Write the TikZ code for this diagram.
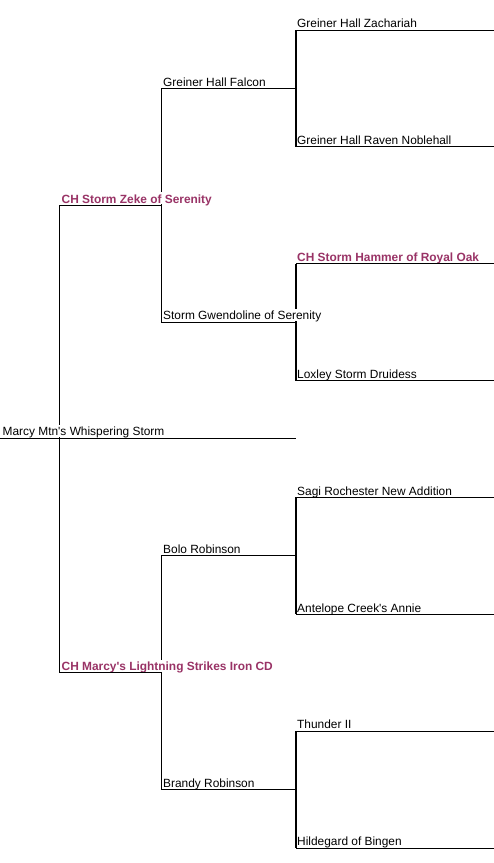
\documentclass[tikz,border=0pt]{standalone}
\usepackage{fontspec}
\newfontfamily\dogfont{Liberation Sans}
\definecolor{champ}{RGB}{153,51,102}
\begin{document}
\begin{tikzpicture}[x=1pt,y=-1pt,
  dogname/.style={anchor=base west,inner sep=0pt,fill=white,text height=10.8pt,text depth=1.3pt,
    font=\dogfont\fontsize{11.9}{13}\selectfont},
  champion/.style={dogname,text=champ,font=\dogfont\fontsize{11.9}{13}\selectfont\bfseries},
  link/.style={line width=1pt,line cap=rect},
  link3/.style={line width=2pt}]
\fill[white] (0,0) rectangle (494,863);
\useasboundingbox (0,0) rectangle (494,863);
% columns
\def\cA{0}\def\cB{59.5}\def\cC{161.5}\def\cD{296}\def\cE{494}
% left/right ends of each dog's line
\coordinate (s0L) at (\cA,438); \coordinate (s0R) at (295,438);
\coordinate (sL) at (\cB,205.3); \coordinate (sR) at (\cC,205.3);
\coordinate (dL) at (\cB,672.7); \coordinate (dR) at (\cC,672.7);
\coordinate (ssL) at (\cC,88.5); \coordinate (ssR) at (\cD,88.5);
\coordinate (sdL) at (\cC,322.1); \coordinate (sdR) at (\cD,322.1);
\coordinate (dsL) at (\cC,555.9); \coordinate (dsR) at (\cD,555.9);
\coordinate (ddL) at (\cC,789.6); \coordinate (ddR) at (\cD,789.6);
\coordinate (sssL) at (\cD,30); \coordinate (sssR) at (\cE,30);
\coordinate (ssdL) at (\cD,146.9); \coordinate (ssdR) at (\cE,146.9);
\coordinate (sdsL) at (\cD,263.7); \coordinate (sdsR) at (\cE,263.7);
\coordinate (sddL) at (\cD,380.6); \coordinate (sddR) at (\cE,380.6);
\coordinate (dssL) at (\cD,497.4); \coordinate (dssR) at (\cE,497.4);
\coordinate (dsdL) at (\cD,614.3); \coordinate (dsdR) at (\cE,614.3);
\coordinate (ddsL) at (\cD,731.1); \coordinate (ddsR) at (\cE,731.1);
\coordinate (dddL) at (\cD,848); \coordinate (dddR) at (\cE,848);
% vertical brackets
\draw[link] (sL) -- (dL);
\draw[link] (ssL) -- (sdL);
\draw[link] (dsL) -- (ddL);
\draw[link3] (sssL) -- (ssdL);
\draw[link3] (sdsL) -- (sddL);
\draw[link3] (dssL) -- (dsdL);
\draw[link3] (ddsL) -- (dddL);
% names
\node[dogname]  (s0)  at ([xshift=2.5pt,yshift=2.2pt]s0L) {Marcy Mtn's Whispering Storm};
\node[champion] (s)   at ([xshift=2pt,yshift=2.2pt]sL) {CH Storm Zeke of Serenity};
\node[champion] (d)   at ([xshift=2pt,yshift=2.2pt]dL) {CH Marcy's Lightning Strikes Iron CD};
\node[dogname]  (ss)  at ([xshift=1.5pt,yshift=2.2pt]ssL) {Greiner Hall Falcon};
\node[dogname]  (sd)  at ([xshift=1.5pt,yshift=2.2pt]sdL) {Storm Gwendoline of Serenity};
\node[dogname]  (ds)  at ([xshift=1.5pt,yshift=2.2pt]dsL) {Bolo Robinson};
\node[dogname]  (dd)  at ([xshift=1.5pt,yshift=2.2pt]ddL) {Brandy Robinson};
\node[dogname]  (sss) at ([xshift=1pt,yshift=2.2pt]sssL) {Greiner Hall Zachariah};
\node[dogname]  (ssd) at ([xshift=1pt,yshift=2.2pt]ssdL) {Greiner Hall Raven Noblehall};
\node[champion] (sds) at ([xshift=1pt,yshift=2.2pt]sdsL) {CH Storm Hammer of Royal Oak};
\node[dogname]  (sdd) at ([xshift=1pt,yshift=2.2pt]sddL) {Loxley Storm Druidess};
\node[dogname]  (dss) at ([xshift=1pt,yshift=2.2pt]dssL) {Sagi Rochester New Addition};
\node[dogname]  (dsd) at ([xshift=1pt,yshift=2.2pt]dsdL) {Antelope Creek's Annie};
\node[dogname]  (dds) at ([xshift=1pt,yshift=2.2pt]ddsL) {Thunder II};
\node[dogname]  (ddd) at ([xshift=1pt,yshift=2.2pt]dddL) {Hildegard of Bingen};
% horizontal lines under each name
\foreach \p in {s0,s,d,ss,sd,ds,dd,sss,ssd,sds,sdd,dss,dsd,dds,ddd}
  \draw[link] (\p L) -- (\p R);
\end{tikzpicture}
\end{document}
